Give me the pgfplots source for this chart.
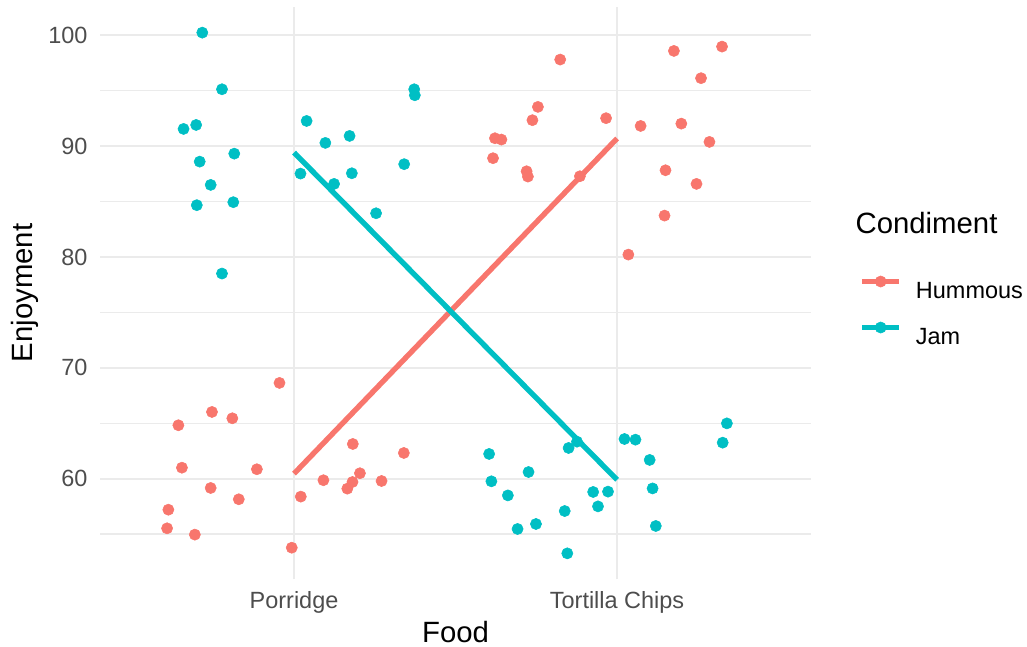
\documentclass[border=0pt]{standalone}
\usepackage{pgfplots}
\pgfplotsset{compat=1.18}
\usepackage{fontspec}
\setmainfont{Liberation Sans}
\definecolor{hum}{HTML}{F8766D}
\definecolor{jam}{HTML}{00BFC4}
\definecolor{gridc}{HTML}{EBEBEB}
\definecolor{tickc}{HTML}{4D4D4D}
\begin{document}
\begin{tikzpicture}
\useasboundingbox (-37.58pt,-25.35pt) rectangle (347.55pt,217.28pt);
\begin{axis}[
  at={(0pt,0pt)}, anchor=south west,
  scale only axis, width=266.5pt, height=214.8pt,
  xmin=0.4, xmax=2.6, ymin=50.91, ymax=102.60,
  xtick={1,2}, xticklabels={Porridge,Tortilla Chips},
  ytick={60,70,80,90,100}, minor ytick={55,65,75,85,95},
  xmajorgrids, ymajorgrids, yminorgrids,
  major grid style={gridc, line width=0.8pt},
  minor grid style={gridc, line width=0.45pt},
  axis line style={draw=none},
  major tick length=0pt, minor tick length=0pt,
  tick style={draw=none},
  /pgf/number format/assume math mode=true,
  ticklabel style={font=\fontsize{8.8}{10}\selectfont, text=tickc, inner sep=0pt},
  yticklabel style={anchor=east, xshift=-4.6pt},
  xticklabel style={anchor=base, yshift=-11.1pt},
  xlabel={Food}, ylabel={Enjoyment},
  label style={font=\fontsize{11}{13}\selectfont, inner sep=0pt},
  xlabel style={at={(axis description cs:0.5,-0.1094)}, anchor=base},
  ylabel style={at={(axis description cs:-0.0946,0.5)}, anchor=base},
  title={Condiment},
  title style={at={(axis description cs:1.0622,0.5752)}, anchor=base west, font=\fontsize{11}{13}\selectfont, inner sep=0pt},
  legend image code/.code={\draw[#1, mark repeat=2, mark phase=2] plot coordinates {(0pt,3.2pt) (6.88pt,3.2pt) (13.76pt,3.2pt)};},
  legend cell align=left,
  legend style={at={(axis description cs:1.0683,0.5298)}, anchor=north west, draw=none, fill=none, inner sep=0pt, outer sep=0pt, row sep=8.7pt, column sep=5.25pt, font=\fontsize{8.8}{10}\selectfont, nodes={inner sep=0pt, text height=6.5pt, text depth=0pt}},
]
% Hummous points
\addplot[hum, only marks, mark=*, mark size=2.1pt, mark options={draw=hum, fill=hum, line width=0.2pt}, forget plot] coordinates {
(0.955,68.64) (0.746,66.02) (0.809,65.45) (0.642,64.82) (0.653,60.99)
(0.885,60.85) (0.742,59.16) (0.829,58.14) (0.611,57.20) (0.607,55.52)
(0.693,54.95) (0.993,53.77) (1.021,58.38) (1.091,59.86) (1.182,63.13)
(1.204,60.49) (1.181,59.70) (1.165,59.10) (1.271,59.79) (1.340,62.32)
(1.824,97.82) (1.755,93.55) (1.738,92.35) (1.966,92.53) (1.622,90.72)
(1.642,90.60) (1.616,88.92) (1.720,87.74) (1.724,87.26) (1.885,87.29)
(2.176,98.60) (2.325,98.99) (2.260,96.14) (2.073,91.83) (2.199,92.04)
(2.286,90.39) (2.150,87.83) (2.246,86.60) (2.147,83.74) (2.035,80.22)
};
% Jam points
\addplot[jam, only marks, mark=*, mark size=2.1pt, mark options={draw=jam, fill=jam, line width=0.2pt}, forget plot] coordinates {
(0.716,100.25) (0.777,95.14) (0.658,91.56) (0.697,91.92) (0.815,89.33)
(0.708,88.61) (0.742,86.51) (0.699,84.68) (0.812,84.95) (0.777,78.51)
(1.039,92.28) (1.097,90.30) (1.172,90.93) (1.020,87.53) (1.124,86.60)
(1.179,87.56) (1.254,83.95) (1.341,88.38) (1.372,95.14) (1.374,94.60)
(1.604,62.23) (1.611,59.76) (1.662,58.49) (1.726,60.60) (1.692,55.46)
(1.749,55.91) (1.838,57.08) (1.846,53.26) (1.850,62.77) (1.876,63.34)
(1.926,58.80) (1.941,57.50) (1.972,58.83) (2.023,63.58) (2.057,63.52)
(2.101,61.69) (2.110,59.12) (2.120,55.73) (2.340,64.99) (2.327,63.25)
};
% Mean lines
\addplot[hum, line width=2pt, forget plot] coordinates {(1,60.45) (2,90.70)};
\addplot[jam, line width=2pt, forget plot] coordinates {(1,89.43) (2,59.90)};
% Legend
\addlegendimage{hum, line width=2.2pt, mark=*, mark size=2.1pt, mark options={draw=hum, fill=hum, line width=0.2pt}}
\addlegendentry{Hummous}
\addlegendimage{jam, line width=2.2pt, mark=*, mark size=2.1pt, mark options={draw=jam, fill=jam, line width=0.2pt}}
\addlegendentry{Jam}
\end{axis}
\end{tikzpicture}
\end{document}
